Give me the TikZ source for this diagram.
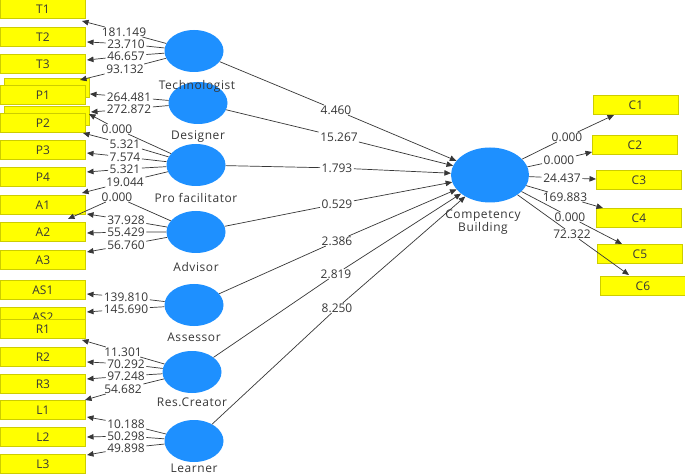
\documentclass[tikz,border=0pt]{standalone}
\usepackage{fontspec}
\setmainfont{Open Sans}
\newfontfamily\namefont[LetterSpace=5]{Open Sans}
\usetikzlibrary{arrows.meta,shapes.geometric}
\definecolor{lvblue}{RGB}{30,144,255}
\definecolor{indyel}{RGB}{255,255,0}
\definecolor{indbord}{RGB}{205,205,0}
\definecolor{txtc}{RGB}{55,55,55}
\definecolor{lnc}{RGB}{55,55,55}
\begin{document}
\begin{tikzpicture}[x=1bp,y=-1bp,
  box/.style={draw=indbord, fill=indyel, line width=0.8bp, minimum width=85bp, minimum height=19bp, inner sep=0pt, anchor=north west, font=\fontsize{12}{13}\selectfont, text=txtc},
  latent/.style={ellipse, fill=lvblue, draw=none, minimum width=59bp, minimum height=42bp, inner sep=0pt},
  lab/.style={fill=white, inner xsep=1.5bp, inner ysep=0.4bp, font=\fontsize{12}{13}\selectfont, text=txtc},
  lvname/.style={font=\namefont\fontsize{12}{13}\selectfont, text=txtc},
  con/.style={draw=lnc, line width=0.7bp, -{Triangle[length=6.5bp,width=5.5bp]}}]
\useasboundingbox (0,0) rectangle (685,474);
\fill[white] (0,0) rectangle (685,474);

% indicator boxes (left)
\node[box] (T1) at (0,-1) {T1};
\node[box] (T2) at (0,27) {T2};
\node[box] (T3) at (0,54) {T3};
\node[box] (B1) at (4,78) {};
\node[box] (P1) at (0,85) {P1};
\node[box] (B2) at (4,106) {};
\node[box] (P2) at (0,113) {P2};
\node[box] (P3) at (0,140) {P3};
\node[box] (P4) at (0,167) {P4};
\node[box] (A1) at (0,195) {A1};
\node[box] (A2) at (0,222) {A2};
\node[box] (A3) at (0,250) {A3};
\node[box] (AS1) at (0,280) {AS1};
\node[box] (AS2) at (0,307) {AS2};
\node[box] (R1) at (0,319) {R1};
\node[box] (R2) at (0,347) {R2};
\node[box] (R3) at (0,374) {R3};
\node[box] (L1) at (0,400) {L1};
\node[box] (L2) at (0,427) {L2};
\node[box] (L3) at (0,454) {L3};

% indicator boxes (right)
\node[box] (C1) at (593,95) {C1};
\node[box] (C2) at (592,135) {C2};
\node[box] (C3) at (596,170) {C3};
\node[box] (C4) at (596,208) {C4};
\node[box] (C5) at (597,244) {C5};
\node[box] (C6) at (600,276) {C6};

% latent variables
\node[latent] (Tech) at (194,51) {};
\node[latent] (Des) at (198,103) {};
\node[latent] (Pro) at (196,165) {};
\node[latent] (Adv) at (196,232) {};
\node[latent] (Ass) at (194,305) {};
\node[latent] (Res) at (192,372) {};
\node[latent] (Lea) at (194,441) {};
\node[latent, minimum width=78bp, minimum height=55bp] (CB) at (490,175) {};

\node[lvname] (nTech) at (197,86) {Technologist};
\node[lvname] (nDes) at (198,137) {Designer};
\node[lvname] (nPro) at (196,198) {Pro facilitator};
\node[lvname] (nAdv) at (196,267) {Advisor};
\node[lvname] (nAss) at (194,337) {Assessor};
\node[lvname] (nRes) at (192,402) {Res.Creator};
\node[lvname] (nLea) at (194,468) {Learner};
\node[lvname, align=center, font=\namefont\fontsize{12}{11.5}\selectfont] (nCB) at (483,222) {Competency\\Building};

% arrow tip coordinates (left)
\coordinate (tT1) at (82,21);
\coordinate (tT2) at (87,42);
\coordinate (tT3) at (87,60);
\coordinate (tB1) at (80,80);
\coordinate (tP1) at (90,94);
\coordinate (tB2) at (91,112);
\coordinate (tB2b) at (89,114);
\coordinate (tP2) at (83,133);
\coordinate (tP3) at (87,153);
\coordinate (tP4) at (87,172);
\coordinate (tA1a) at (82,193);
\coordinate (tX) at (68,219);
\coordinate (tA1) at (87,214);
\coordinate (tA2) at (87,233);
\coordinate (tA3) at (87,252);
\coordinate (tAS1) at (87,294);
\coordinate (tAS2) at (87,312);
\coordinate (tR1) at (82,340);
\coordinate (tR2) at (87,362);
\coordinate (tR3) at (87,379);
\coordinate (tL1a) at (85,400);
\coordinate (tL1) at (87,417);
\coordinate (tL2) at (87,437);
\coordinate (tL3) at (87,455);
% right
\coordinate (tC1) at (614,115);
\coordinate (tC2) at (592,152);
\coordinate (tC3) at (596,179);
\coordinate (tC4) at (603,208);
\coordinate (tC5) at (622,244);
\coordinate (tC6) at (629,275);

% labels left
\node[lab] (a1) at (124,32) {181.149};
\node[lab] (a2) at (126,44) {23.710};
\node[lab] (a3) at (126,56) {46.657};
\node[lab] (a4) at (125,69) {93.132};
\node[lab] (d1) at (129,97) {264.481};
\node[lab] (d2) at (129,109) {272.872};
\node[lab] (p0) at (117,129) {0.000};
\node[lab] (p1) at (125,144) {5.321};
\node[lab] (p2) at (125,157) {7.574};
\node[lab] (p3) at (125,169) {5.321};
\node[lab] (p4) at (125,182) {19.044};
\node[lab] (v0) at (117,197) {0.000};
\node[lab] (v1) at (126,220) {37.928};
\node[lab] (v2) at (126,232) {55.429};
\node[lab] (v3) at (126,245) {56.760};
\node[lab] (s1) at (126,297) {139.810};
\node[lab] (s2) at (126,309) {145.690};
\node[lab] (r1) at (123,352) {11.301};
\node[lab] (r2) at (126,364) {70.292};
\node[lab] (r3) at (126,376) {97.248};
\node[lab] (r4) at (123,389) {54.682};
\node[lab] (l1) at (126,424) {10.188};
\node[lab] (l2) at (126,436) {50.298};
\node[lab] (l3) at (126,448) {49.898};

\draw[con] (Tech) -- (a1) -- (tT1);
\draw[con] (Tech) -- (a2) -- (tT2);
\draw[con] (Tech) -- (a3) -- (tT3);
\draw[con] (Tech) -- (a4) -- (tB1);
\draw[con] (Des) -- (d1) -- (tP1);
\draw[con] (Des) -- (d2) -- (tB2);
\draw[con] (Pro) -- (p0) -- (tB2b);
\draw[con] (Pro) -- (p1) -- (tP2);
\draw[con] (Pro) -- (p2) -- (tP3);
\draw[con] (Pro) -- (p3) -- (tP4);
\draw[con] (Pro) -- (p4) -- (tA1a);
\draw[con] (Adv) -- (v0) -- (tX);
\draw[con] (Adv) -- (v1) -- (tA1);
\draw[con] (Adv) -- (v2) -- (tA2);
\draw[con] (Adv) -- (v3) -- (tA3);
\draw[con] (Ass) -- (s1) -- (tAS1);
\draw[con] (Ass) -- (s2) -- (tAS2);
\draw[con] (Res) -- (r1) -- (tR1);
\draw[con] (Res) -- (r2) -- (tR2);
\draw[con] (Res) -- (r3) -- (tR3);
\draw[con] (Res) -- (r4) -- (tL1a);
\draw[con] (Lea) -- (l1) -- (tL1);
\draw[con] (Lea) -- (l2) -- (tL2);
\draw[con] (Lea) -- (l3) -- (tL3);

% inner paths
\node[lab] (i1) at (336,110) {4.460};
\node[lab] (i2) at (339,137) {15.267};
\node[lab] (i3) at (337,168) {1.793};
\node[lab] (i4) at (337,204) {0.529};
\node[lab] (i5) at (337,241) {2.386};
\node[lab] (i6) at (336,274) {2.819};
\node[lab] (i7) at (337,308) {8.250};
\draw[con] (Tech) -- (i1) -- (CB);
\draw[con] (Des) -- (i2) -- (CB);
\draw[con] (Pro) -- (i3) -- (CB);
\draw[con] (Adv) -- (i4) -- (CB);
\draw[con] (Ass) -- (i5) -- (CB);
\draw[con] (Res) -- (i6) -- (CB);
\draw[con] (Lea) -- (i7) -- (CB);

% outer loadings
\node[lab] (c1) at (567,137) {0.000};
\node[lab] (c2) at (559,160) {0.000};
\node[lab] (c3) at (562,178) {24.437};
\node[lab] (c4) at (565,197) {169.883};
\node[lab] (c5) at (570,217) {0.000};
\node[lab] (c6) at (572,234) {72.322};
\draw[con] (CB) -- (c1) -- (tC1);
\draw[con] (CB) -- (c2) -- (tC2);
\draw[con] (CB) -- (c3) -- (tC3);
\draw[con] (CB) -- (c4) -- (tC4);
\draw[con] (CB) -- (c5) -- (tC5);
\draw[con] (CB) -- (c6) -- (tC6);
\end{tikzpicture}
\end{document}
